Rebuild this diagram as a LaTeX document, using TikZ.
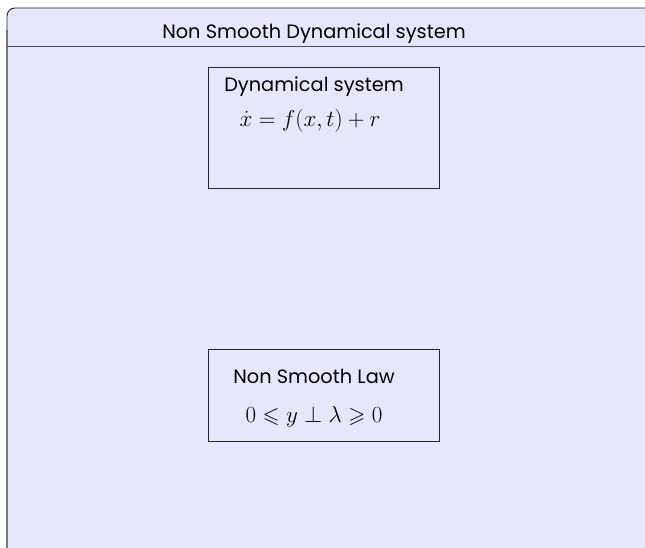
\documentclass[tikz,border=0pt]{standalone}
\usepackage{amsmath,amssymb}
\usepackage{fontspec}
\setmainfont{Poppins}
\usepackage{tikz}
\definecolor{lavfill}{RGB}{230,230,252}
\definecolor{framegray}{RGB}{120,120,120}

\begin{document}
\begin{tikzpicture}[
    x=0.75pt, y=-0.75pt,
    boxtitle/.style={font=\fontsize{14.5}{17}\selectfont, inner sep=0pt, anchor=base},
    boxeq/.style={font=\fontsize{16.5}{19}\selectfont, inner sep=0pt, anchor=base},
    blockbox/.style={draw=black!85, line width=0.6pt, minimum width=173.25pt, inner sep=0pt}
]
    \useasboundingbox (0,0) rectangle (645,548);
    % outer block
    \fill[lavfill, rounded corners=6pt] (7,560) |- (660,8) -- (660,560) -- cycle;
    \draw[black!85, line width=0.7pt, rounded corners=6pt] (7,40) |- (660,8);
    \draw[framegray, line width=1.1pt] (7,30) -- (7,548);
    \coordinate (barL) at (7,46.5);
    \coordinate (barR) at (660,46.5);
    \draw[black!70, line width=0.7pt] (barL) -- (barR);
    \node[boxtitle] (outertitle) at (314,39) {Non Smooth Dynamical system};

    % inner boxes
    \node[blockbox, minimum height=90.75pt] (dynbox) at (323.5,127.5) {};
    \node[boxtitle] (dyntitle) at (314,92) {Dynamical system};
    \node[boxeq] (dyneq) at (310,127) {$\dot{x} = f(x,t) + r$};

    \node[blockbox, minimum height=69pt] (lawbox) at (323.5,395) {};
    \node[boxtitle] (lawtitle) at (314,383) {Non Smooth Law};
    \node[boxeq] (laweq) at (314,422) {$0 \leqslant y \perp \lambda \geqslant 0$};
\end{tikzpicture}
\end{document}
